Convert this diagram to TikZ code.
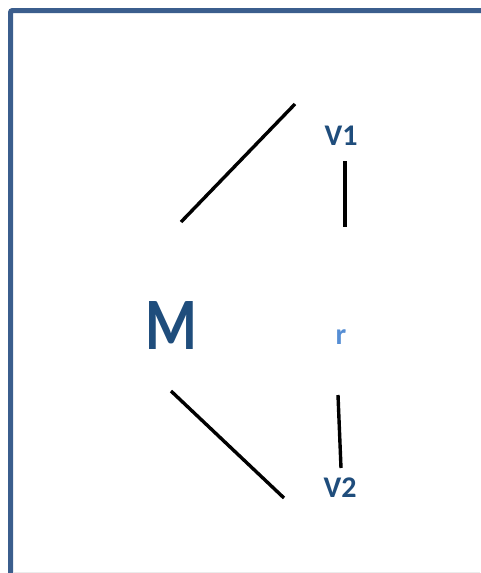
\documentclass[tikz,border=0pt]{standalone}
\usepackage{fontspec}
\usepackage{graphicx}
\setmainfont{Carlito}
\definecolor{framecol}{RGB}{59,94,141}
\definecolor{labelcol}{RGB}{31,77,124}
\definecolor{rcol}{RGB}{86,142,212}
\begin{document}
\begin{tikzpicture}[x=1pt,y=-1pt,
  label/.style={font=\bfseries, text=labelcol, inner sep=0pt, anchor=center},
  link/.style={line width=3.4pt, black}]
\useasboundingbox (0,0) rectangle (480,573);
% open frame on the left and top
\draw[framecol, line width=5pt, rounded corners=2pt] (10.5,575) -- (10.5,10.5) -- (482,10.5);
\draw[black!8, line width=1pt] (13,572) -- (480,572);
% labels
\node[label, font=\bfseries\fontsize{74}{78}\selectfont] (m) at (171,326) {\scalebox{0.8}[1]{M}};
\node[label, font=\bfseries\fontsize{30}{34}\selectfont] (v1) at (341,136) {V1};
\node[label, font=\bfseries\fontsize{30}{34}\selectfont] (v2) at (340,488) {V2};
\node[label, text=rcol, font=\bfseries\fontsize{30}{34}\selectfont] (r) at (341,337) {r};
% connector ends
\coordinate (a1) at (181,222); \coordinate (a2) at (295,104);
\coordinate (b1) at (345,161); \coordinate (b2) at (345,227);
\coordinate (c1) at (338,395); \coordinate (c2) at (341,468);
\coordinate (d1) at (171,391); \coordinate (d2) at (284,498);
\draw[link] (a1) -- (a2);
\draw[link] (b1) -- (b2);
\draw[link] (c1) -- (c2);
\draw[link] (d1) -- (d2);
\end{tikzpicture}
\end{document}
